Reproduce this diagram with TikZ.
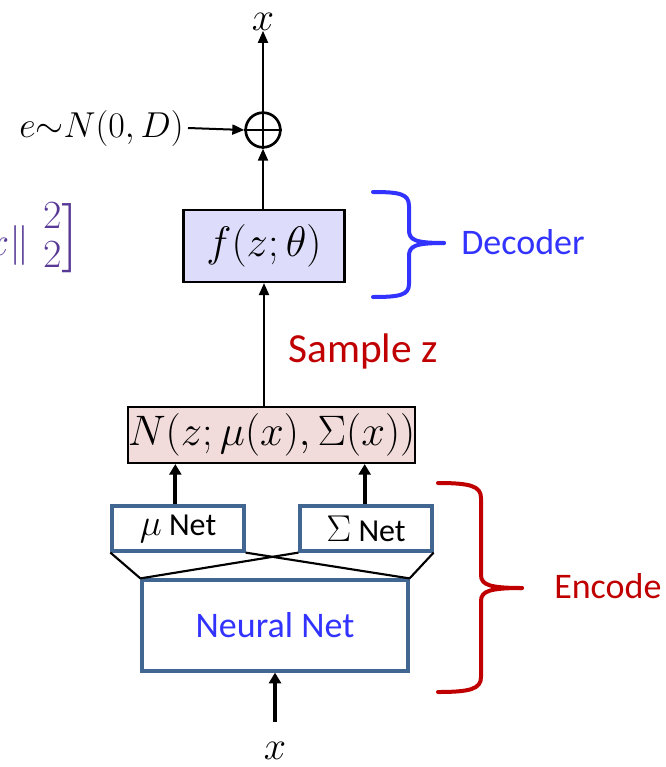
\RequirePackage{fix-cm}
\documentclass[tikz,border=0pt]{standalone}
\usepackage{fontspec}
\setsansfont{Carlito}
\usetikzlibrary{arrows.meta}
\definecolor{flav}{RGB}{221,221,251}
\definecolor{fpink}{RGB}{242,220,219}
\definecolor{steel}{RGB}{65,102,145}
\definecolor{tblue}{RGB}{51,51,255}
\definecolor{tred}{RGB}{192,0,0}
\definecolor{tpurple}{RGB}{88,58,150}
\newcommand{\bigmath}[1]{{\fontsize{28}{30}\selectfont$#1$}}
\tikzset{
  mathbox/.style={draw=black, line width=1.6pt, inner sep=0pt},
  netbox/.style={draw=steel, fill=white, line width=2.4pt, inner sep=0pt, font=\sffamily\fontsize{24}{28}\selectfont},
  arr/.style={line width=1.5pt, -{Triangle[length=9pt,width=7.5pt]}},
  thickarr/.style={line width=3pt, -{Triangle[length=8pt,width=9pt]}},
  cross/.style={line width=1.6pt},
  bracestyle/.style={line width=3pt, line cap=round, line join=round},
  lbl/.style={inner sep=0pt, font=\fontsize{30}{34}\selectfont},
}
\begin{document}
\begin{tikzpicture}[x=0.75pt,y=-0.75pt]
\useasboundingbox (0,0) rectangle (665,767);
\clip (0,0) rectangle (665,767);

% decoder part
\node[lbl] (xout) at (263,22) {$x$};
\node[draw, circle, line width=2pt, minimum size=26pt, inner sep=0pt] (plus) at (263,130) {};
\draw[line width=2pt] (plus.north) -- (plus.south) (plus.west) -- (plus.east);
\node[lbl, anchor=east, font=\fontsize{27}{30}\selectfont] (noise) at (184,128) {$e{\sim}N(0,D)$};
\node[mathbox, fill=flav, minimum width=120.75pt, minimum height=54pt, font=\fontsize{32}{36}\selectfont] (f) at (264,246) {$f(z;\theta)$};

\draw[arr] (plus.north) -- (xout.south);
\draw[arr] (noise.east) ++(3pt,0) -- (plus.west);
\draw[arr] (f.north -| plus.south) -- (plus.south);

% partial loss text
\node[inner sep=0pt, anchor=base east, text=tpurple, font=\fontsize{30}{34}\selectfont] (loss) at (79,255) {$x\|$\hspace{0.35em}\raisebox{0.125em}{$\renewcommand\arraystretch{0.88}\begin{array}{@{}c@{}}2\\2\end{array}$}{\fontsize{52}{52}\selectfont$]$}};

% decoder brace
\draw[bracestyle, draw=tblue] (373,192) .. controls (400,192) and (409,194) .. (409,206) -- (409,230) .. controls (409,240) and (415,243) .. (444,243);
\draw[bracestyle, draw=tblue] (444,243) .. controls (415,243) and (409,246) .. (409,256) -- (409,284) .. controls (409,295) and (400,297) .. (373,297);
\node[inner sep=0pt, anchor=west, text=tblue, font=\sffamily\fontsize{27}{30}\selectfont] (dec) at (461,242) {Decoder};

% sample
\node[inner sep=0pt, anchor=west, text=tred, font=\sffamily\fontsize{31}{34}\selectfont] (samp) at (288,351) {Sample z};

% N box
\node[mathbox, fill=fpink, minimum width=215.25pt, minimum height=42pt, font=\fontsize{32}{36}\selectfont] (N) at (271.5,435) {$N(z;\mu(x),\Sigma(x))$};
\draw[arr] (N.north -| f.south) -- (f.south);

% mu, sigma nets
\node[netbox, minimum width=99pt, minimum height=33.75pt] (mu) at (178,528.5) {\bigmath{\mu} Net};
\node[netbox, minimum width=99pt, minimum height=33.75pt] (sig) at (366,528.5) {\bigmath{\Sigma} Net};
\node[netbox, minimum width=199.5pt, minimum height=68.25pt, text=tblue, font=\sffamily\fontsize{27}{30}\selectfont] (nn) at (275,625.5) {Neural Net};

\draw[thickarr] ([xshift=-2pt]mu.north) -- ([xshift=-2pt]mu.north |- N.south);
\draw[thickarr] ([xshift=-1pt]sig.north) -- ([xshift=-1pt]sig.north |- N.south);

\draw[cross] (mu.south west) -- (nn.north west);
\draw[cross] (mu.south east) -- (nn.north east);
\draw[cross] (sig.south west) -- (nn.north west);
\draw[cross] (sig.south east) -- (nn.north east);

% input
\node[lbl] (xin) at (275,751) {$x$};
\coordinate (inend) at (275,722);
\draw[thickarr] (inend) -- (nn.south);

% encoder brace
\draw[bracestyle, draw=tred] (438,483) .. controls (470,483) and (481,486) .. (481,498) -- (481,575) .. controls (481,585) and (490,588) .. (522,588);
\draw[bracestyle, draw=tred] (522,588) .. controls (490,588) and (481,591) .. (481,601) -- (481,677) .. controls (481,689) and (470,692) .. (438,692);
\node[inner sep=0pt, anchor=west, text=tred, font=\sffamily\fontsize{27}{30}\selectfont] (enc) at (554,586) {Encode};
\end{tikzpicture}
\end{document}
